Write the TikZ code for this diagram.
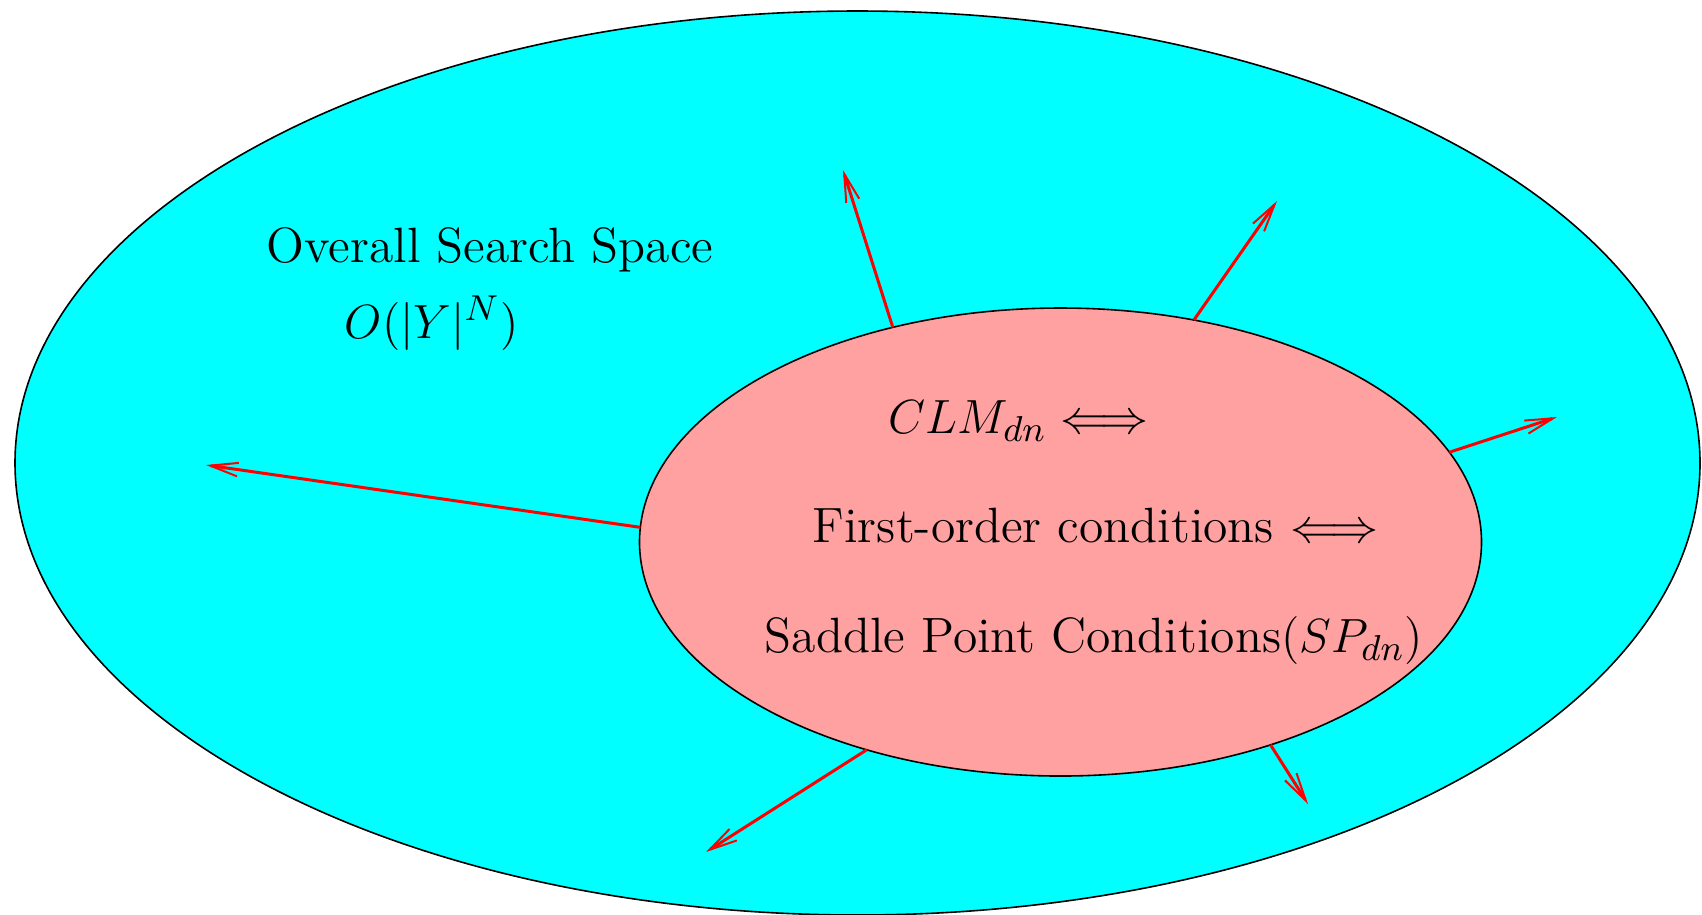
\documentclass[tikz,border=0pt]{standalone}
\usepackage{amsmath}
\usepackage{tikz}
\usetikzlibrary{shapes.geometric, arrows.meta, positioning}

\definecolor{spacecyan}{RGB}{0,255,255}
\definecolor{regionpink}{RGB}{255,161,161}

\begin{document}
\begin{tikzpicture}[x=0.25pt, y=-0.25pt,
    region/.style={ellipse, draw=black, line width=0.4pt, inner sep=0pt, outer sep=0pt},
    lbl/.style={anchor=base west, inner sep=0pt, font=\fontsize{12.4}{15}\selectfont},
    ray/.style={draw=red, line width=0.75pt, -{Straight Barb[length=7pt, width=3.4pt, line width=0.5pt]}}]
    \useasboundingbox (0,0) rectangle (1702,914);

    \node[region, fill=spacecyan, minimum width=421.25pt, minimum height=226pt] (outer) at (857.5,463) {};
    \node[region, fill=regionpink, minimum width=210.5pt, minimum height=117pt] (inner) at (1060.5,542) {};

    \node[lbl] (overall) at (266,262) {Overall Search Space};
    \node[lbl] (order) at (344,338) {$O(|Y|^N)$};
    \node[lbl] (clm) at (888,433) {$CLM_{dn} \Longleftrightarrow$};
    \node[lbl] (foc) at (812,542) {First-order conditions $\Longleftrightarrow$};
    \node[lbl] (spc) at (764,652) {Saddle Point Conditions$(SP_{dn})$};

    % free ends of the rays
    \coordinate (e1) at (206,465);
    \coordinate (e2) at (843,170);
    \coordinate (e3) at (1277,201);
    \coordinate (e4) at (1557,417);
    \coordinate (e5) at (1308,804);
    \coordinate (e6) at (706,852);

    \path[every edge/.append style=ray]
    (inner.178.2) edge (e1)
    (inner.128.3) edge (e2)
    (inner.59.5) edge (e3)
    (inner.13.8) edge (e4)
    (inner.-44.7) edge (e5)
    (inner.-133.4) edge (e6);
\end{tikzpicture}
\end{document}
